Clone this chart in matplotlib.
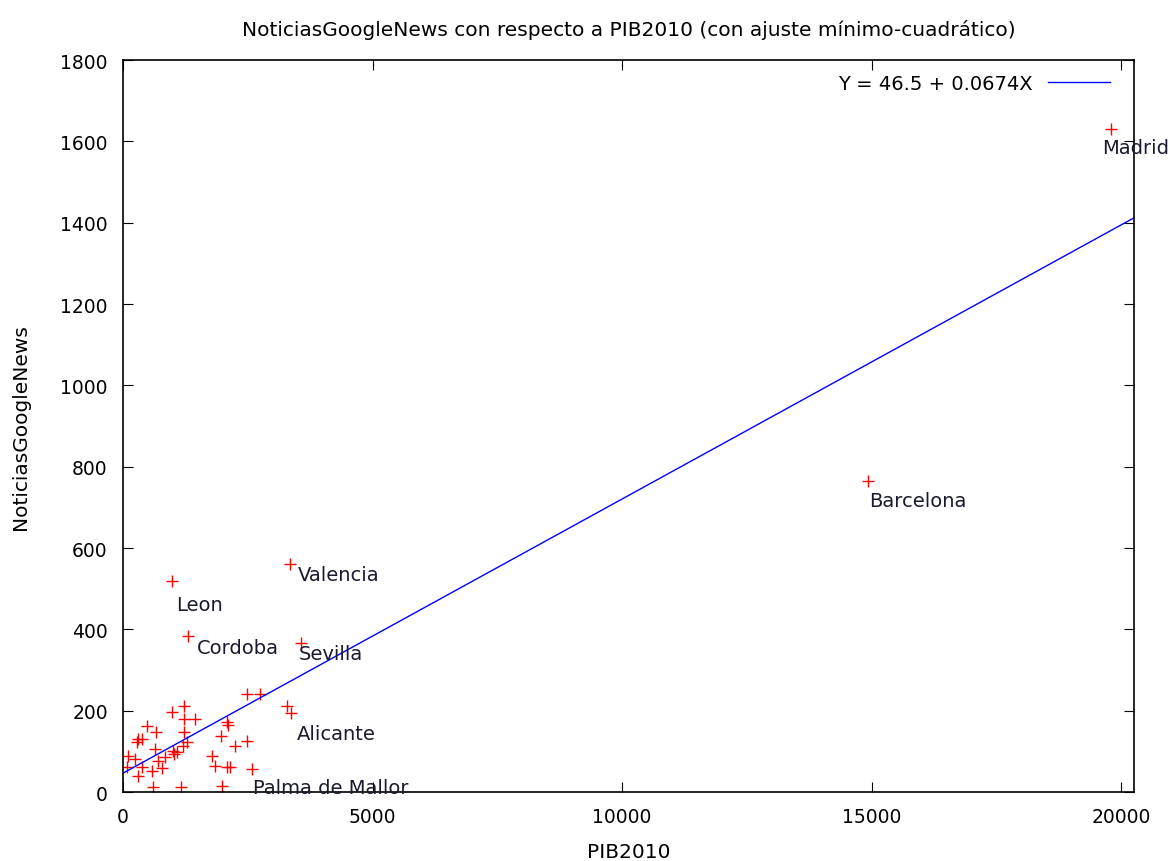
import matplotlib
matplotlib.use('Agg')
from matplotlib import pyplot

# PIB2010 (x) and NoticiasGoogleNews (y)
pib = [19800, 14930, 3347, 982, 1303, 3567,
       2479, 2745, 3293, 3360, 976, 1222, 1222, 1443, 2078, 2110,
       475, 655, 1222, 307, 375, 275, 1277, 1208, 641, 1964,
       2479, 2244, 1008, 1076, 1028, 842, 106, 240, 707, 1778,
       1844, 2078, 2144, 2579, 74, 375, 575, 776, 307, 607,
       1156, 1990]
noticias = [1630, 765, 561, 519, 384, 366,
            241, 241, 211, 194, 196, 212, 180, 180, 171, 165,
            163, 147, 147, 130, 130, 122, 122, 114, 106, 137,
            126, 114, 102, 99, 93, 85, 89, 81, 77, 89,
            65, 61, 61, 57, 61, 61, 52, 58, 39, 12,
            12, 15]

# city labels and where they sit
label_names = ['Madrid', 'Barcelona', 'Valencia', 'Leon', 'Cordoba',
               'Sevilla', 'Alicante', 'Palma de Mallor']
label_x = [19620, 14960, 3500, 1060, 1480, 3530, 3480, 2600]
label_y = [1585, 718, 535, 462, 355, 340, 143, 10]

# least squares fit
intercept = 46.5
slope = 0.0674

fig = pyplot.figure(figsize=(11.72, 8.62), dpi=100)
ax = fig.add_axes([0.105, 0.08, 0.8626, 0.8492])

# the data points
ax.plot(pib, noticias, linestyle='none', marker='+', color='red',
        markersize=9, markeredgewidth=1.0)

# the fitted line
ax.axline((0, intercept), slope=slope, color='#0000ff', linewidth=1.0,
          label='Y = %.1f + %.4fX' % (intercept, slope))

# the city names
for name, lx, ly in zip(label_names, label_x, label_y):
    ax.text(lx, ly, name, fontsize=14, color='#1a1a2e',
            ha='left', va='center', clip_on=False)

ax.set_xlim([0, 20260])
ax.set_ylim([0, 1800])
ax.set_xticks([0, 5000, 10000, 15000, 20000])
ax.set_yticks(range(0, 1801, 200))
ax.tick_params(direction='in', top=True, right=True, length=7,
               labelsize=13.5, pad=11)
for sp in ax.spines.values():
    sp.set_linewidth(1.2)

ax.set_title('NoticiasGoogleNews con respecto a PIB2010 (con ajuste mínimo-cuadrático)',
             fontsize=14.5, pad=18)
ax.set_xlabel('PIB2010', fontsize=14.5)
ax.set_ylabel('NoticiasGoogleNews', fontsize=14.5)
ax.xaxis.set_label_coords(0.5, -0.068)
ax.yaxis.set_label_coords(-0.092, 0.5)

ax.legend(loc='upper right', bbox_to_anchor=(0.99, 1.0), frameon=False,
          markerfirst=False, fontsize=14, handlelength=3.2,
          borderaxespad=0.3)

fig.savefig('out.png')
